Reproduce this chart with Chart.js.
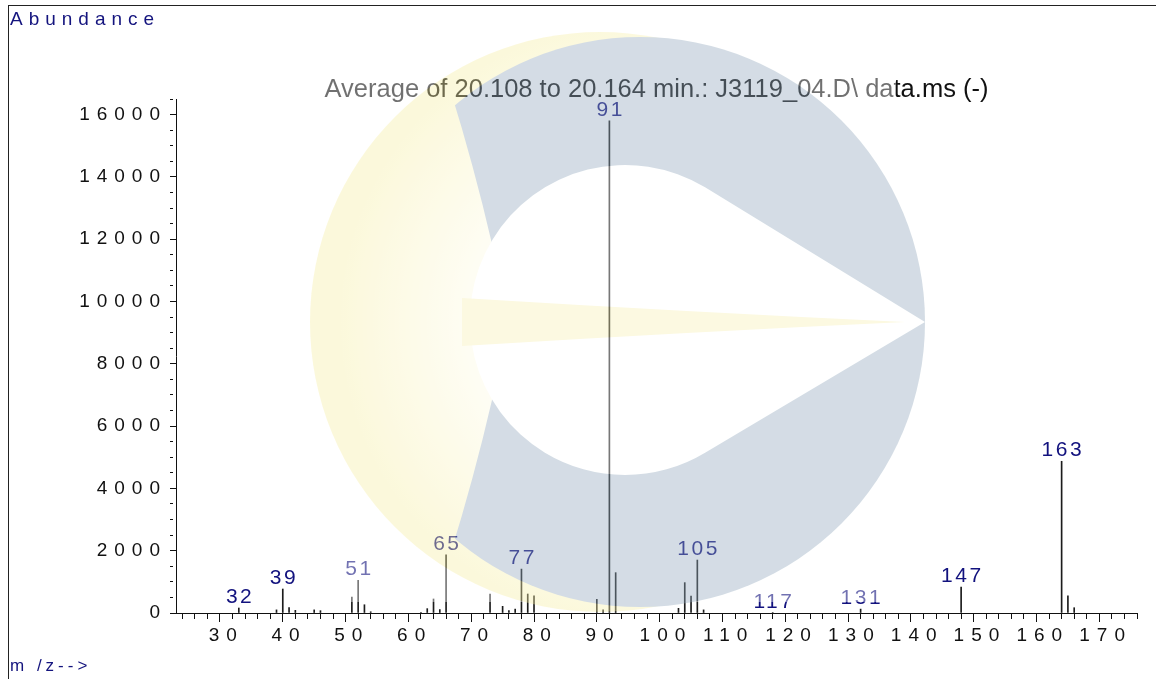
<!DOCTYPE html>
<html>
<head>
<meta charset="utf-8">
<script src="https://cdn.jsdelivr.net/npm/chart.js@4.4.0/dist/chart.umd.min.js"></script>
<style>
  html, body { margin: 0; padding: 0; background: #fff; }
  #wrap { position: relative; width: 1156px; height: 679px; overflow: hidden; }
  #frame { position: absolute; left: 8px; top: 5px; width: 1160px; height: 690px;
           border-top: 1px solid #222; border-left: 1px solid #222; }
  .axisname { position: absolute; font-family: "Liberation Sans", Arial, sans-serif;
              color: #14147e; white-space: pre; }
  #yname { left: 10px; top: 9px; font-size: 19px; line-height: 19px; letter-spacing: 6px; }
  #xname { left: 10px; top: 657px; font-size: 17px; line-height: 17px; letter-spacing: 4px; }
  #chart { position: absolute; left: 0; top: 0; }
</style>
</head>
<body>
<div id="wrap">
  <canvas id="chart" width="1156" height="679"></canvas>
  <div id="frame"></div>
  <div id="yname" class="axisname">Abundance</div>
  <div id="xname" class="axisname">m /z--&gt;</div>
</div>
<script>
// spectrum
const mz = [32, 38, 39, 40, 41, 44, 45, 50, 51, 52, 53, 61, 62, 63, 64, 65,
            72, 74, 75, 76, 77, 78, 79, 89, 90, 91, 92, 102, 103, 104, 105, 106,
            117, 131, 147, 163, 164, 165];
const abundance = [160, 100, 770, 170, 85, 100, 75, 515, 1050, 265, 40, 25, 140, 450, 110, 1870,
                   610, 215, 75, 125, 1410, 610, 550, 440, 100, 15800, 1295, 150, 975, 540, 1700, 100,
                   15, 125, 830, 4870, 550, 170];
const labeledPeaks = [32, 39, 51, 65, 77, 91, 105, 117, 131, 147, 163];
const xLabels = [30, 40, 50, 60, 70, 80, 90, 100, 110, 120, 130, 140, 150, 160, 170];
const yLabels = [0, 2000, 4000, 6000, 8000, 10000, 12000, 14000, 16000];
const titleText = "Average of 20.108 to 20.164 min.: J3119_04.D\\ data.ms (-)";

const X_MIN = 22, X_MAX = 175, X_MINOR = 2;
const Y_MAX = 16500, Y_MINOR = 500;
const FONT = '"Liberation Sans", Arial, sans-serif';

function minorTicks(from, to, step) {
  const out = [];
  for (let v = from; v <= to; v += step) out.push({ value: v });
  return out;
}

// the semi transparent logo that sits over the plot
function buildWatermark(w, h) {
  const c = document.createElement("canvas");
  c.width = w; c.height = h;
  const g = c.getContext("2d");

  g.fillStyle = "#ffffff";
  g.fillRect(320, 30, 576, 572);

  const yel = g.createRadialGradient(640, 322, 150, 640, 322, 300);
  yel.addColorStop(0, "#fefcec");
  yel.addColorStop(1, "#f6eea6");
  g.fillStyle = yel;
  g.beginPath(); g.arc(600, 322, 290, 0, Math.PI * 2); g.fill();

  g.save();
  g.beginPath();
  g.moveTo(450, 0); g.lineTo(w, 0); g.lineTo(w, h); g.lineTo(450, h);
  g.lineTo(450, 555);
  g.quadraticCurveTo(474, 478, 492, 400);
  g.lineTo(492, 244);
  g.quadraticCurveTo(474, 166, 450, 89);
  g.closePath();
  g.clip();
  g.fillStyle = "#93a9bd";
  g.beginPath(); g.arc(640, 322, 285, 0, Math.PI * 2); g.fill();
  g.restore();

  const cx = 625, cy = 320, r = 155, tipX = 925, tipY = 322;
  const d = Math.hypot(tipX - cx, tipY - cy);
  const th = Math.acos(r / d);
  g.fillStyle = "#ffffff";
  g.beginPath();
  g.moveTo(tipX, tipY);
  g.arc(cx, cy, r, -th, th, true);
  g.closePath();
  g.fill();

  g.fillStyle = "#f7f0b4";
  g.beginPath();
  g.moveTo(462, 298);
  g.quadraticCurveTo(690, 312, 905, 322);
  g.quadraticCurveTo(690, 332, 462, 346);
  g.closePath();
  g.fill();
  return c;
}

const overlay = {
  id: "overlay",
  beforeDraw(chart) {
    chart.ctx.letterSpacing = "7px";
  },
  afterDraw(chart) {
    const ctx = chart.ctx;
    const xs = chart.scales.x, ys = chart.scales.y;
    const area = chart.chartArea;
    ctx.save();

    ctx.letterSpacing = "0px";
    ctx.fillStyle = "#111";
    ctx.font = "25.5px " + FONT;
    ctx.textAlign = "center";
    ctx.textBaseline = "alphabetic";
    ctx.fillText(titleText, (area.left + area.right) / 2, 97);

    ctx.letterSpacing = "2.5px";
    ctx.font = "21px " + FONT;
    ctx.fillStyle = "#12127e";
    labeledPeaks.forEach((m) => {
      const i = mz.indexOf(m);
      const x = xs.getPixelForValue(m);
      const y = ys.getPixelForValue(abundance[i]);
      ctx.fillText(String(m), x + 1.25, y - 5);
    });

    ctx.letterSpacing = "0px";
    ctx.globalAlpha = 0.4;
    ctx.drawImage(buildWatermark(chart.width, chart.height), 0, 0);
    ctx.restore();
  },
};

new Chart(document.getElementById("chart").getContext("2d"), {
  type: "bar",
  data: {
    datasets: [{
      data: mz.map((m, i) => ({ x: m, y: abundance[i] })),
      backgroundColor: "#1c1c1c",
      borderWidth: 0,
      barThickness: 1,
    }],
  },
  options: {
    responsive: false,
    animation: false,
    layout: { padding: { top: 99, right: 19, left: 0, bottom: 0 } },
    plugins: { legend: { display: false }, tooltip: { enabled: false } },
    scales: {
      x: {
        type: "linear",
        min: X_MIN,
        max: X_MAX,
        offset: false,
        afterBuildTicks: (s) => { s.ticks = minorTicks(24, 174, X_MINOR); },
        afterFit: (s) => { s.height = 66; },
        border: { color: "#111", width: 1 },
        grid: {
          drawOnChartArea: false,
          tickLength: 9,
          tickColor: "#111",
          tickBorderDash: (c) => (c.tick && xLabels.includes(c.tick.value) ? [] : [5, 30]),
        },
        ticks: {
          autoSkip: false,
          maxRotation: 0,
          minRotation: 0,
          padding: 2,
          color: "#111",
          font: { family: FONT, size: 19 },
          callback: (v) => (xLabels.includes(v) ? String(v) : ""),
        },
      },
      y: {
        min: 0,
        max: Y_MAX,
        afterBuildTicks: (s) => { s.ticks = minorTicks(0, Y_MAX, Y_MINOR); },
        afterFit: (s) => { s.width = 176; },
        border: { color: "#111", width: 1 },
        grid: {
          drawOnChartArea: false,
          tickLength: 6,
          tickColor: "#111",
          tickBorderDash: (c) => (c.tick && yLabels.includes(c.tick.value) ? [] : [3, 30]),
        },
        ticks: {
          autoSkip: false,
          padding: 3,
          color: "#111",
          font: { family: FONT, size: 19 },
          callback: (v) => (yLabels.includes(v) ? String(v) : ""),
        },
      },
    },
  },
  plugins: [overlay],
});
</script>
</body>
</html>
